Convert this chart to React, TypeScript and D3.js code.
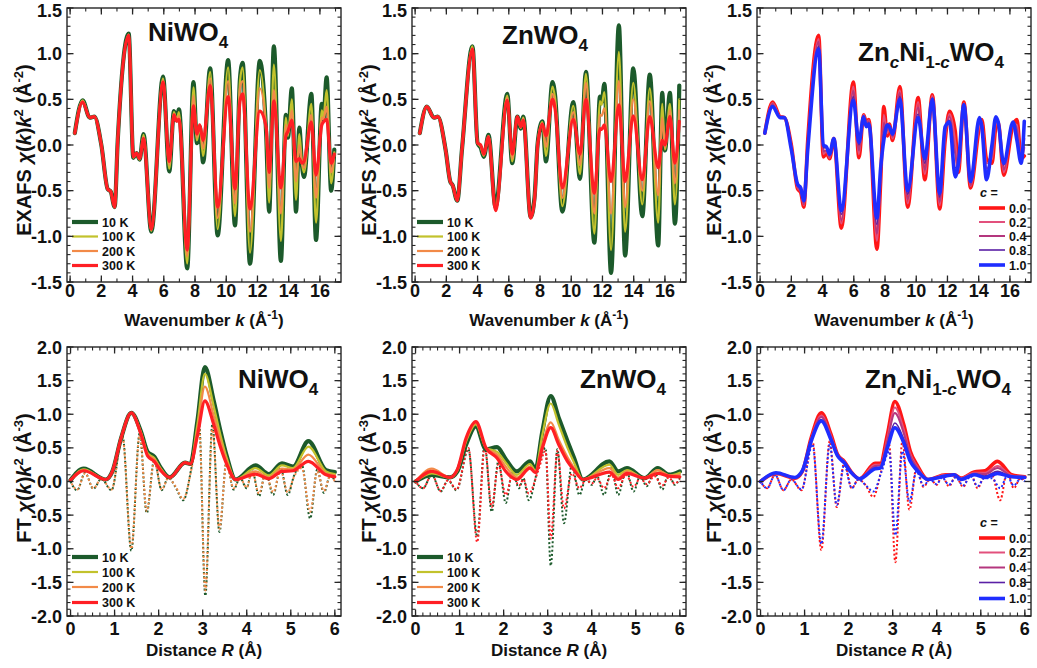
import React from "react";
import * as d3 from "d3";

// ---------------- data: EXAFS k-space ----------------
const kNi = [0.3, 0.8, 1.25, 1.55, 2.0, 2.4, 2.6, 2.85, 3.05, 3.75, 4.05, 4.25, 4.45, 4.7, 5.2, 5.95, 6.35, 6.65, 6.82, 6.97, 7.5, 7.9, 8.12, 8.3, 8.52, 8.97, 9.45, 10.12, 10.56, 10.88, 11.05, 11.52, 12.15, 12.55, 12.75, 13.05, 13.5, 13.82, 13.95, 14.2, 14.47, 14.68, 14.85, 14.98, 15.45, 15.75, 16.12, 16.22, 16.43, 16.72, 16.92];
const niK10 = [0.13, 0.49, 0.3, 0.31, 0.0, -0.48, -0.51, -0.68, 0.05, 1.22, -0.14, -0.09, -0.16, 0.12, -0.95, 0.75, -0.29, 0.37, 0.27, 0.39, -1.35, 0.69, 0.02, 0.2, -0.19, 0.84, -0.99, 0.93, -0.88, 0.73, 0.9, -1.3, 0.92, 0.15, -0.73, 1.08, -1.27, 0.33, 0.08, 0.62, -0.73, 0.19, -0.22, -0.35, 0.56, -1.04, 0.45, 0.28, 0.74, -0.5, -0.05];
const niK100 = [0.13, 0.49, 0.3, 0.31, 0.0, -0.48, -0.51, -0.68, 0.05, 1.21, -0.14, -0.09, -0.16, 0.11, -0.94, 0.73, -0.26, 0.36, 0.27, 0.36, -1.3, 0.63, 0.05, 0.2, -0.12, 0.8, -0.92, 0.85, -0.78, 0.7, 0.85, -1.18, 0.82, 0.16, -0.63, 0.88, -1.05, 0.3, 0.1, 0.5, -0.6, 0.12, -0.2, -0.3, 0.45, -0.85, 0.38, 0.3, 0.6, -0.42, -0.08];
const niK200 = [0.13, 0.48, 0.3, 0.31, 0.0, -0.48, -0.51, -0.68, 0.05, 1.21, -0.13, -0.09, -0.15, 0.09, -0.93, 0.71, -0.22, 0.34, 0.27, 0.32, -1.22, 0.54, 0.08, 0.21, -0.04, 0.73, -0.8, 0.7, -0.64, 0.62, 0.7, -0.95, 0.62, 0.18, -0.47, 0.6, -0.75, 0.22, 0.12, 0.38, -0.4, 0.0, -0.2, -0.25, 0.33, -0.58, 0.3, 0.28, 0.42, -0.3, -0.1];
const niK300 = [0.13, 0.47, 0.3, 0.31, 0.0, -0.48, -0.51, -0.68, 0.05, 1.2, -0.13, -0.09, -0.15, 0.07, -0.92, 0.69, -0.18, 0.33, 0.26, 0.28, -1.15, 0.43, 0.12, 0.22, 0.05, 0.65, -0.68, 0.53, -0.48, 0.48, 0.56, -0.7, 0.37, 0.2, -0.3, 0.48, -0.47, 0.1, 0.15, 0.27, -0.18, -0.15, -0.2, -0.18, 0.25, -0.33, 0.22, 0.25, 0.28, -0.2, -0.1];

const kZn = [0.3, 0.75, 1.2, 1.45, 1.95, 2.25, 2.4, 2.7, 3.0, 3.67, 4.0, 4.2, 4.4, 4.7, 5.15, 5.9, 6.22, 6.55, 6.77, 6.93, 7.4, 7.65, 7.85, 8.15, 8.38, 8.8, 8.96, 9.43, 10.13, 10.56, 10.94, 11.48, 11.84, 11.95, 12.12, 12.55, 13.05, 13.45, 13.97, 14.55, 15.03, 15.57, 15.83, 16.0, 16.32, 16.64, 16.92];
const znK10 = [0.13, 0.42, 0.3, 0.31, -0.05, -0.4, -0.44, -0.61, -0.05, 1.08, 0.02, -0.03, -0.13, 0.11, -0.68, 0.56, -0.2, 0.31, 0.18, 0.31, -0.79, -0.57, 0.02, 0.26, -0.18, 0.69, 0.55, -0.73, 0.47, -0.37, 0.8, -1.07, 0.53, 0.47, 0.67, -1.4, 1.31, -1.21, 0.84, -0.78, 0.77, -1.1, 0.57, -0.06, 0.57, -0.86, 0.65];
const znK100 = [0.13, 0.42, 0.3, 0.31, -0.05, -0.4, -0.44, -0.61, -0.05, 1.08, 0.02, -0.02, -0.12, 0.1, -0.69, 0.54, -0.18, 0.31, 0.19, 0.3, -0.79, -0.58, 0.02, 0.25, -0.12, 0.64, 0.52, -0.67, 0.43, -0.32, 0.78, -0.97, 0.48, 0.44, 0.58, -1.15, 1.02, -0.95, 0.68, -0.65, 0.62, -0.85, 0.45, -0.05, 0.45, -0.65, 0.5];
const znK200 = [0.13, 0.42, 0.3, 0.31, -0.05, -0.4, -0.44, -0.61, -0.05, 1.06, 0.02, -0.01, -0.11, 0.1, -0.7, 0.52, -0.15, 0.31, 0.19, 0.29, -0.8, -0.59, 0.01, 0.24, -0.02, 0.56, 0.46, -0.58, 0.36, -0.22, 0.68, -0.75, 0.33, 0.32, 0.4, -0.75, 0.7, -0.68, 0.5, -0.5, 0.48, -0.55, 0.3, -0.03, 0.38, -0.42, 0.38];
const znK300 = [0.13, 0.42, 0.3, 0.31, -0.05, -0.4, -0.44, -0.61, -0.05, 1.05, 0.02, 0.0, -0.1, 0.09, -0.72, 0.49, -0.1, 0.31, 0.2, 0.27, -0.8, -0.6, 0.0, 0.23, 0.1, 0.5, 0.4, -0.47, 0.28, -0.1, 0.5, -0.53, 0.18, 0.17, 0.22, -0.4, 0.44, -0.4, 0.32, -0.38, 0.31, -0.25, 0.05, 0.0, 0.31, -0.2, 0.26];

const kMix = [0.3, 0.8, 1.28, 1.55, 2.0, 2.4, 2.6, 2.8, 3.05, 3.75, 4.05, 4.25, 4.45, 4.72, 5.2, 5.97, 6.33, 6.63, 6.8, 6.96, 7.48, 7.72, 7.92, 8.15, 8.28, 8.48, 8.95, 9.45, 10.12, 10.55, 11.03, 11.5, 11.85, 12.13, 12.5, 12.7, 13.05, 13.48, 14.05, 14.2, 14.5, 14.85, 15.1, 15.25, 15.6, 16.2, 16.45, 16.72, 16.92];
const mixK00 = [0.13, 0.47, 0.31, 0.3, 0.0, -0.48, -0.52, -0.68, 0.05, 1.2, -0.13, -0.09, -0.15, 0.07, -0.91, 0.69, -0.14, 0.33, 0.25, 0.28, -1.14, -0.4, 0.42, 0.1, 0.23, 0.05, 0.64, -0.68, 0.52, -0.38, 0.55, -0.7, 0.05, 0.37, 0.15, -0.3, 0.47, -0.47, 0.2, 0.28, -0.15, -0.2, 0.2, 0.25, -0.33, 0.22, 0.28, -0.15, -0.12];
const mixK02 = [0.13, 0.46, 0.31, 0.3, 0.0, -0.47, -0.51, -0.66, 0.03, 1.16, -0.1, -0.07, -0.14, 0.07, -0.86, 0.64, -0.1, 0.33, 0.24, 0.27, -1.05, -0.36, 0.33, 0.13, 0.22, 0.07, 0.6, -0.64, 0.47, -0.32, 0.54, -0.66, 0.09, 0.34, 0.03, -0.28, 0.46, -0.45, 0.22, 0.26, -0.2, -0.15, 0.23, 0.25, -0.3, 0.23, 0.22, -0.16, -0.03];
const mixK04 = [0.13, 0.45, 0.3, 0.3, -0.02, -0.46, -0.5, -0.65, 0.0, 1.13, -0.07, -0.06, -0.13, 0.07, -0.82, 0.59, -0.06, 0.32, 0.23, 0.26, -0.97, -0.33, 0.24, 0.16, 0.22, 0.09, 0.57, -0.59, 0.41, -0.27, 0.52, -0.62, 0.12, 0.31, -0.1, -0.25, 0.45, -0.44, 0.25, 0.24, -0.26, -0.1, 0.26, 0.25, -0.27, 0.24, 0.17, -0.18, 0.07];
const mixK08 = [0.13, 0.43, 0.3, 0.3, -0.04, -0.44, -0.48, -0.62, -0.03, 1.08, -0.03, -0.03, -0.11, 0.07, -0.76, 0.53, 0.0, 0.31, 0.21, 0.24, -0.87, -0.28, 0.12, 0.2, 0.21, 0.11, 0.53, -0.54, 0.34, -0.2, 0.51, -0.57, 0.17, 0.27, -0.25, -0.22, 0.45, -0.41, 0.28, 0.22, -0.33, -0.04, 0.29, 0.25, -0.22, 0.25, 0.08, -0.19, 0.18];
const mixK10 = [0.13, 0.42, 0.3, 0.3, -0.05, -0.43, -0.47, -0.61, -0.05, 1.05, 0.0, -0.02, -0.1, 0.07, -0.72, 0.49, 0.03, 0.31, 0.2, 0.23, -0.8, -0.25, 0.05, 0.22, 0.2, 0.12, 0.5, -0.5, 0.3, -0.15, 0.5, -0.53, 0.2, 0.25, -0.35, -0.2, 0.44, -0.4, 0.3, 0.2, -0.38, 0.0, 0.31, 0.25, -0.2, 0.25, 0.05, -0.2, 0.26];

// ---------------- data: Fourier transforms (solid = modulus, dotted = imaginary part) ----------------
const rNiMag = [0, 0.3, 0.8, 0.95, 1.15, 1.38, 1.6, 1.75, 1.9, 2.05, 2.25, 2.6, 2.72, 2.88, 3.05, 3.25, 3.4, 3.55, 3.75, 4.2, 4.5, 4.8, 5.05, 5.4, 5.8, 6.0];
const niR10 = [0.02, 0.19, 0.03, 0.15, 0.65, 1.02, 0.74, 0.44, 0.37, 0.2, 0.06, 0.28, 0.26, 0.9, 1.7, 1.2, 0.76, 0.37, 0.03, 0.24, 0.11, 0.27, 0.22, 0.6, 0.17, 0.14];
const niR100 = [0.02, 0.18, 0.03, 0.15, 0.65, 1.02, 0.73, 0.42, 0.35, 0.19, 0.06, 0.28, 0.26, 0.85, 1.6, 1.12, 0.7, 0.34, 0.03, 0.2, 0.09, 0.24, 0.2, 0.52, 0.15, 0.11];
const niR200 = [0.02, 0.17, 0.03, 0.15, 0.65, 1.02, 0.72, 0.4, 0.33, 0.18, 0.06, 0.28, 0.26, 0.77, 1.41, 0.98, 0.62, 0.3, 0.03, 0.15, 0.06, 0.19, 0.18, 0.4, 0.12, 0.09];
const niR300 = [0.02, 0.16, 0.03, 0.15, 0.65, 1.02, 0.7, 0.38, 0.3, 0.16, 0.06, 0.28, 0.26, 0.68, 1.2, 0.85, 0.52, 0.25, 0.03, 0.11, 0.04, 0.15, 0.16, 0.3, 0.1, 0.07];
const rNiIm = [0, 0.15, 0.33, 0.52, 0.7, 0.93, 1.18, 1.38, 1.57, 1.73, 1.9, 2.07, 2.22, 2.38, 2.56, 2.75, 2.92, 3.06, 3.22, 3.38, 3.54, 3.7, 3.85, 4.0, 4.12, 4.28, 4.43, 4.6, 4.77, 4.93, 5.08, 5.25, 5.44, 5.6, 5.75, 5.9, 6.0];
const niIm10 = [0, -0.13, 0.13, -0.11, 0.04, -0.13, 0.68, -1.03, 0.72, -0.47, 0.32, -0.13, 0.06, -0.08, -0.28, 0.22, 0.85, -1.7, 0.85, -0.75, 0.3, -0.12, 0.05, -0.1, 0.18, -0.22, 0.15, -0.2, 0.2, -0.2, 0.1, 0.25, -0.55, 0.18, -0.17, 0.1, 0.0];
const niIm200 = [0, -0.12, 0.12, -0.1, 0.04, -0.12, 0.66, -1.0, 0.7, -0.44, 0.3, -0.12, 0.05, -0.07, -0.26, 0.2, 0.8, -1.62, 0.8, -0.7, 0.27, -0.1, 0.05, -0.09, 0.15, -0.18, 0.12, -0.16, 0.16, -0.16, 0.08, 0.2, -0.45, 0.15, -0.14, 0.08, 0.0];

const rZnMag = [0, 0.37, 0.78, 0.95, 1.15, 1.37, 1.6, 1.85, 2.05, 2.3, 2.6, 2.72, 2.88, 3.07, 3.25, 3.45, 3.6, 3.8, 4.4, 4.6, 4.8, 5.2, 5.5, 5.75, 6.0];
const znR10 = [0, 0.1, 0.06, 0.15, 0.55, 0.82, 0.48, 0.51, 0.33, 0.15, 0.3, 0.18, 0.75, 1.27, 0.95, 0.6, 0.35, 0.03, 0.3, 0.15, 0.2, 0.05, 0.2, 0.1, 0.15];
const znR100 = [0, 0.12, 0.06, 0.16, 0.6, 0.85, 0.5, 0.44, 0.28, 0.1, 0.26, 0.16, 0.7, 1.16, 0.85, 0.5, 0.28, 0.03, 0.25, 0.1, 0.17, 0.05, 0.17, 0.09, 0.13];
const znR200 = [0, 0.19, 0.06, 0.17, 0.62, 0.87, 0.5, 0.4, 0.22, 0.06, 0.22, 0.14, 0.55, 0.88, 0.62, 0.36, 0.2, 0.03, 0.2, 0.06, 0.15, 0.05, 0.17, 0.09, 0.1];
const znR300 = [0, 0.15, 0.06, 0.18, 0.65, 0.89, 0.5, 0.35, 0.15, 0.03, 0.2, 0.13, 0.5, 0.8, 0.55, 0.3, 0.17, 0.03, 0.14, 0.03, 0.12, 0.05, 0.12, 0.08, 0.07];
const rZnIm = [0, 0.17, 0.37, 0.57, 0.74, 0.93, 1.2, 1.4, 1.57, 1.73, 1.88, 2.05, 2.2, 2.35, 2.45, 2.57, 2.78, 2.95, 3.07, 3.22, 3.37, 3.55, 3.72, 3.87, 4.0, 4.12, 4.28, 4.45, 4.6, 4.78, 4.95, 5.1, 5.25, 5.42, 5.6, 5.75, 5.88, 6.0];
const znIm10 = [0, -0.1, 0.1, -0.15, 0.02, -0.13, 0.48, -0.82, 0.54, -0.45, 0.3, -0.32, 0.15, -0.1, 0.05, -0.28, 0.2, 0.5, -1.25, 0.48, -0.62, 0.25, -0.2, 0.05, -0.05, 0.08, -0.2, 0.2, -0.2, 0.18, -0.15, 0.08, -0.07, 0.15, -0.12, 0.12, -0.05, 0.05];
const znIm300 = [0, -0.1, 0.1, -0.14, 0.02, -0.12, 0.5, -0.9, 0.52, -0.38, 0.25, -0.2, 0.1, -0.06, 0.03, -0.18, 0.15, 0.45, -0.85, 0.45, -0.4, 0.12, -0.1, 0.03, -0.03, 0.05, -0.1, 0.1, -0.1, 0.1, -0.08, 0.05, -0.04, 0.08, -0.06, 0.06, -0.03, 0.03];

const rMixMag = [0, 0.35, 0.78, 0.95, 1.15, 1.38, 1.6, 1.75, 1.9, 2.05, 2.25, 2.6, 2.72, 2.88, 3.05, 3.25, 3.4, 3.55, 3.8, 4.2, 4.4, 4.55, 4.85, 5.1, 5.38, 5.7, 6.0];
const mixR00 = [0, 0.12, 0.05, 0.15, 0.65, 1.02, 0.7, 0.4, 0.3, 0.15, 0.04, 0.27, 0.27, 0.7, 1.19, 0.85, 0.45, 0.25, 0.03, 0.1, 0.1, 0.05, 0.14, 0.16, 0.3, 0.1, 0.07];
const mixR02 = [0, 0.12, 0.05, 0.15, 0.64, 0.98, 0.68, 0.4, 0.3, 0.15, 0.04, 0.25, 0.25, 0.65, 1.1, 0.78, 0.41, 0.23, 0.03, 0.1, 0.1, 0.05, 0.13, 0.13, 0.23, 0.09, 0.07];
const mixR04 = [0, 0.12, 0.05, 0.15, 0.63, 0.96, 0.66, 0.39, 0.29, 0.15, 0.04, 0.23, 0.24, 0.61, 1.02, 0.72, 0.38, 0.21, 0.03, 0.09, 0.1, 0.04, 0.12, 0.11, 0.2, 0.08, 0.07];
const mixR08 = [0, 0.13, 0.06, 0.16, 0.61, 0.92, 0.63, 0.38, 0.28, 0.14, 0.04, 0.2, 0.21, 0.54, 0.87, 0.63, 0.33, 0.18, 0.03, 0.08, 0.1, 0.03, 0.11, 0.08, 0.15, 0.07, 0.06];
const mixR10 = [0, 0.13, 0.06, 0.16, 0.6, 0.9, 0.62, 0.38, 0.28, 0.14, 0.04, 0.19, 0.2, 0.5, 0.8, 0.58, 0.3, 0.17, 0.03, 0.08, 0.1, 0.03, 0.1, 0.06, 0.12, 0.07, 0.06];
const rMixIm = [0, 0.15, 0.33, 0.52, 0.7, 0.93, 1.18, 1.38, 1.57, 1.73, 1.9, 2.07, 2.22, 2.38, 2.56, 2.75, 2.92, 3.06, 3.22, 3.38, 3.54, 3.7, 3.85, 4.0, 4.12, 4.28, 4.43, 4.6, 4.77, 4.93, 5.08, 5.25, 5.44, 5.6, 5.75, 5.9, 6.0];
const mixIm00 = [0, -0.1, 0.1, -0.13, 0.03, -0.13, 0.6, -1.02, 0.6, -0.38, 0.28, -0.1, 0.03, -0.05, -0.23, 0.18, 0.55, -1.2, 0.6, -0.42, 0.2, -0.08, 0.04, -0.05, 0.08, -0.07, 0.08, -0.08, 0.12, -0.1, 0.08, 0.1, -0.28, 0.15, -0.1, 0.05, 0.0];
const mixIm10 = [0, -0.1, 0.1, -0.13, 0.03, -0.12, 0.55, -0.93, 0.55, -0.35, 0.25, -0.1, 0.03, -0.05, -0.15, 0.15, 0.45, -0.8, 0.45, -0.3, 0.15, -0.06, 0.03, -0.04, 0.06, -0.05, 0.06, -0.06, 0.08, -0.07, 0.05, 0.05, -0.1, 0.08, -0.06, 0.04, 0.0];

// ---------------- legends / ticks ----------------
const tempLabels = ["10 K", "100 K", "200 K", "300 K"];
const tempColors = ["#1c5a2b", "#c2c22c", "#f28a48", "#ff1f24"];
const tempWidths = [4.2, 2.2, 2.2, 3.2];
const mixLabels = ["0.0", "0.2", "0.4", "0.8", "1.0"];
const mixColors = ["#ff1616", "#e2507c", "#b4367e", "#5a20a6", "#1f2dff"];
const mixWidths = [3.6, 2, 2, 1.6, 3.6];

const kMajor = [0, 2, 4, 6, 8, 10, 12, 14, 16];
const rMajor = [0, 1, 2, 3, 4, 5, 6];
const exafsMajor = [-1.5, -1.0, -0.5, 0.0, 0.5, 1.0, 1.5];
const ftMajor = [-2.0, -1.5, -1.0, -0.5, 0.0, 0.5, 1.0, 1.5, 2.0];

const FONT = '"Liberation Sans", Arial, Helvetica, sans-serif';
const COL = [0, 345, 690];
const STROKE = "#262626";

type Curve = { xs: number[]; ys: number[]; color: string; width: number; dotted?: boolean; dash?: number };
type Leg = { header?: boolean; rows: { label: string; color: string; width: number }[]; x: number; ys: number[]; headerY?: number };

function fmtY(v: number) {
  return (Math.round(v * 10) / 10).toFixed(1);
}

function Panel(props: {
  id: string;
  col: number;
  row: number;
  curves: Curve[];
  title: React.ReactNode;
  legend: Leg;
}) {
  const { id, col, row, curves, title, legend } = props;
  const off = COL[col];
  const top = row === 0;
  const X0 = off + 67;
  const X1 = off + 341;
  const Y0 = top ? 8 : 347;
  const Y1 = top ? 282 : 616;
  const x = d3.scaleLinear().domain(top ? [-0.2, 17.35] : [-0.08, 6.14]).range([X0, X1]);
  const y = d3.scaleLinear().domain(top ? [-1.5, 1.5] : [-2, 2]).range([Y1, Y0]);
  const xMaj = top ? kMajor : rMajor;
  const xMin = top ? d3.range(0, 18, 1) : d3.range(0, 37, 1).map((i) => i / 6);
  const yMaj = top ? exafsMajor : ftMajor;
  const yMin = top ? d3.range(-15, 16, 1).map((i) => i / 10) : d3.range(-20, 21, 1).map((i) => i / 10);

  const paths = curves.map((c, i) => {
    const gen = d3
      .line<number>()
      .x((_, j) => x(c.xs[j]))
      .y((v) => y(v))
      .curve(d3.curveMonotoneX);
    return (
      <path
        key={i}
        d={gen(c.ys) || ""}
        fill="none"
        stroke={c.color}
        strokeWidth={c.width}
        strokeLinejoin="round"
        strokeLinecap={c.dotted ? "butt" : "round"}
        strokeDasharray={c.dotted ? "2 2.2" : undefined}
        strokeDashoffset={c.dotted ? c.dash || 0 : undefined}
      />
    );
  });

  const ticks: React.ReactNode[] = [];
  xMin.forEach((v, i) => {
    const px = x(v);
    if (px < X0 || px > X1) return;
    ticks.push(<line key={"xm" + i} x1={px} x2={px} y1={Y1} y2={Y1 - 3.5} stroke={STROKE} strokeWidth={1.1} />);
    ticks.push(<line key={"xmt" + i} x1={px} x2={px} y1={Y0} y2={Y0 + 3.5} stroke={STROKE} strokeWidth={1.1} />);
  });
  xMaj.forEach((v, i) => {
    const px = x(v);
    ticks.push(<line key={"xM" + i} x1={px} x2={px} y1={Y1} y2={Y1 - 6.5} stroke={STROKE} strokeWidth={1.3} />);
    ticks.push(<line key={"xMt" + i} x1={px} x2={px} y1={Y0} y2={Y0 + 6.5} stroke={STROKE} strokeWidth={1.3} />);
    ticks.push(
      <text key={"xl" + i} x={px} y={top ? 297 : 635} textAnchor="middle" fontSize={18} fontWeight="bold" fill="#111">
        {String(v)}
      </text>
    );
  });
  yMin.forEach((v, i) => {
    const py = y(v);
    ticks.push(<line key={"ym" + i} x1={X0} x2={X0 + 3.5} y1={py} y2={py} stroke={STROKE} strokeWidth={1.1} />);
    ticks.push(<line key={"ymr" + i} x1={X1} x2={X1 - 3.5} y1={py} y2={py} stroke={STROKE} strokeWidth={1.1} />);
  });
  yMaj.forEach((v, i) => {
    const py = y(v);
    ticks.push(<line key={"yM" + i} x1={X0} x2={X0 + 6.5} y1={py} y2={py} stroke={STROKE} strokeWidth={1.3} />);
    ticks.push(<line key={"yMr" + i} x1={X1} x2={X1 - 6.5} y1={py} y2={py} stroke={STROKE} strokeWidth={1.3} />);
    // label baseline, kept inside the page at the very top
    const base = Math.max(py + 6.5, 16.5);
    ticks.push(
      <text key={"yl" + i} x={off + 62} y={base} textAnchor="end" fontSize={18} fontWeight="bold" fill="#111">
        {fmtY(v)}
      </text>
    );
  });

  const yTitle = top ? (
    <text transform={`translate(${off + 31},150) rotate(-90)`} textAnchor="middle" fontSize={20} fontWeight="bold" fill="#111">
      EXAFS <tspan fontStyle="italic">χ</tspan>(<tspan fontStyle="italic">k</tspan>)<tspan fontStyle="italic">k</tspan>
      <tspan dy={-8} fontSize={13}>2</tspan>
      <tspan dy={8}> (Å</tspan>
      <tspan dy={-8} fontSize={13}>-2</tspan>
      <tspan dy={8}>)</tspan>
    </text>
  ) : (
    <text transform={`translate(${off + 31},478) rotate(-90)`} textAnchor="middle" fontSize={20} fontWeight="bold" fill="#111">
      FT <tspan fontStyle="italic">χ</tspan>(<tspan fontStyle="italic">k</tspan>)<tspan fontStyle="italic">k</tspan>
      <tspan dy={-8} fontSize={13}>2</tspan>
      <tspan dy={8}> (Å</tspan>
      <tspan dy={-8} fontSize={13}>-3</tspan>
      <tspan dy={8}>)</tspan>
    </text>
  );

  const xTitle = top ? (
    <text x={(X0 + X1) / 2} y={326} textAnchor="middle" fontSize={17} fontWeight="bold" fill="#111">
      Wavenumber <tspan fontStyle="italic">k</tspan> (Å<tspan dy={-7} fontSize={12}>-1</tspan>
      <tspan dy={7}>)</tspan>
    </text>
  ) : (
    <text x={(X0 + X1) / 2} y={656} textAnchor="middle" fontSize={17} fontWeight="bold" fill="#111">
      Distance <tspan fontStyle="italic">R</tspan> (Å)
    </text>
  );

  const lx = off + legend.x;
  return (
    <g>
      <defs>
        <clipPath id={id}>
          <rect x={X0} y={Y0} width={X1 - X0} height={Y1 - Y0} />
        </clipPath>
      </defs>
      <g clipPath={`url(#${id})`}>{paths}</g>
      {title}
      <g>
        {legend.header && (
          <text x={lx + 1} y={legend.headerY} fontSize={12.5} fontWeight="bold" fill="#111">
            <tspan fontStyle="italic">c</tspan> =
          </text>
        )}
        {legend.rows.map((r, i) => (
          <g key={i}>
            <line x1={lx} x2={lx + 26} y1={legend.ys[i]} y2={legend.ys[i]} stroke={r.color} strokeWidth={r.width} />
            <text x={lx + 30} y={legend.ys[i]} dy="0.36em" fontSize={12.5} fontWeight="bold" fill="#111">
              {r.label}
            </text>
          </g>
        ))}
      </g>
      <rect x={X0} y={Y0} width={X1 - X0} height={Y1 - Y0} fill="none" stroke={STROKE} strokeWidth={1.4} />
      {ticks}
      {yTitle}
      {xTitle}
    </g>
  );
}

function Formula(props: { x: number; y: number; kind: "ni" | "zn" | "mix" }) {
  const { x, y, kind } = props;
  const big = 26;
  const sub = 17;
  if (kind === "mix") {
    return (
      <text x={x} y={y} fontSize={big} fontWeight="bold" fill="#111">
        Zn<tspan dy={7} fontSize={sub} fontStyle="italic">c</tspan>
        <tspan dy={-7}>Ni</tspan>
        <tspan dy={7} fontSize={sub}>1-</tspan>
        <tspan fontSize={sub} fontStyle="italic">c</tspan>
        <tspan dy={-7}>WO</tspan>
        <tspan dy={7} fontSize={sub}>4</tspan>
      </text>
    );
  }
  return (
    <text x={x} y={y} fontSize={big} fontWeight="bold" fill="#111">
      {kind === "ni" ? "NiWO" : "ZnWO"}
      <tspan dy={7} fontSize={sub}>4</tspan>
    </text>
  );
}

function tempCurves(xs: number[], sets: number[][]): Curve[] {
  return sets.map((ys, i) => ({ xs, ys, color: tempColors[i], width: tempWidths[i] }));
}
function mixCurves(xs: number[], sets: number[][]): Curve[] {
  return sets.map((ys, i) => ({ xs, ys, color: mixColors[i], width: mixWidths[i] }));
}

export default function App() {
  const tempLegTop: Leg = {
    x: 72,
    ys: [222, 236.5, 251, 265.5],
    rows: tempLabels.map((l, i) => ({ label: l, color: tempColors[i], width: tempWidths[i] })),
  };
  const tempLegBot: Leg = { ...tempLegTop, ys: [557, 572, 587, 602.5] };
  const mixLegTop: Leg = {
    x: 289,
    header: true,
    headerY: 197,
    ys: [208, 222, 236, 250, 265],
    rows: mixLabels.map((l, i) => ({ label: l, color: mixColors[i], width: mixWidths[i] })),
  };
  const mixLegBot: Leg = { ...mixLegTop, headerY: 527, ys: [538, 552.5, 567.5, 582.5, 598.5] };

  const dot = (xs: number[], ys: number[], color: string, dash: number): Curve => ({ xs, ys, color, width: 2, dotted: true, dash });

  return (
    <svg
      width={1037}
      height={668}
      viewBox="0 0 1037 668"
      style={{ position: "absolute", left: 0, top: 0, display: "block", background: "#fff", fontFamily: FONT }}
      fontFamily={FONT}
    >
      <rect width={1037} height={668} fill="#fff" />
      <Panel
        id="c1"
        col={0}
        row={0}
        curves={tempCurves(kNi, [niK10, niK100, niK200, niK300])}
        title={<Formula x={148} y={41} kind="ni" />}
        legend={tempLegTop}
      />
      <Panel
        id="c2"
        col={1}
        row={0}
        curves={tempCurves(kZn, [znK10, znK100, znK200, znK300])}
        title={<Formula x={502} y={44} kind="zn" />}
        legend={tempLegTop}
      />
      <Panel
        id="c3"
        col={2}
        row={0}
        curves={mixCurves(kMix, [mixK00, mixK02, mixK04, mixK08, mixK10])}
        title={<Formula x={858} y={61} kind="mix" />}
        legend={mixLegTop}
      />
      <Panel
        id="c4"
        col={0}
        row={1}
        curves={[
          dot(rNiIm, niIm10, tempColors[0], 0),
          dot(rNiIm, niIm200, tempColors[2], 2),
          ...tempCurves(rNiMag, [niR10, niR100, niR200, niR300]),
        ]}
        title={<Formula x={238} y={388} kind="ni" />}
        legend={tempLegBot}
      />
      <Panel
        id="c5"
        col={1}
        row={1}
        curves={[
          dot(rZnIm, znIm10, tempColors[0], 0),
          dot(rZnIm, znIm300, tempColors[3], 2),
          ...tempCurves(rZnMag, [znR10, znR100, znR200, znR300]),
        ]}
        title={<Formula x={580} y={388} kind="zn" />}
        legend={tempLegBot}
      />
      <Panel
        id="c6"
        col={2}
        row={1}
        curves={[
          dot(rMixIm, mixIm00, mixColors[0], 0),
          dot(rMixIm, mixIm10, mixColors[4], 2),
          ...mixCurves(rMixMag, [mixR00, mixR02, mixR04, mixR08, mixR10]),
        ]}
        title={<Formula x={865} y={388} kind="mix" />}
        legend={mixLegBot}
      />
    </svg>
  );
}
